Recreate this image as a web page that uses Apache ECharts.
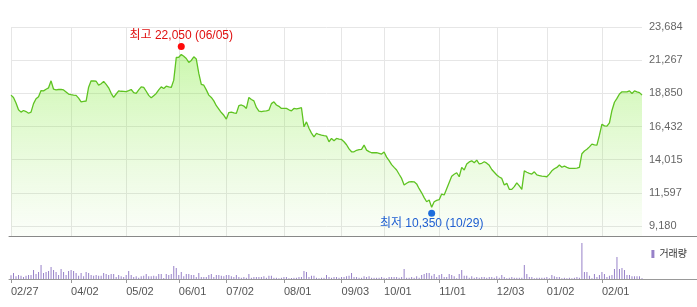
<!DOCTYPE html>
<html><head><meta charset="utf-8">
<script src="https://cdn.jsdelivr.net/npm/echarts@6/dist/echarts.min.js"></script>
<style>html,body{margin:0;padding:0;background:#fff}#c{width:697px;height:307px}</style>
</head><body><div id="c"></div>
<script>
const price = [
18718,18550,18150,17650,17480,17600,17520,17400,17480,18100,
18450,18600,19050,19030,19150,19250,19760,19150,19100,19130,
19140,19100,18950,18800,18750,18720,18700,18500,18230,18260,
18290,19300,19760,19750,19730,19450,19550,19720,19500,19250,
18850,18560,18800,19030,19000,18990,18980,19050,19130,18900,
18840,19100,19320,19280,19000,18700,18520,18680,18840,19100,
19320,19200,19370,19320,19280,19810,21460,21480,21680,21550,
21390,21100,21250,21510,21350,20300,19500,19440,19100,18720,
18550,18300,17950,17700,17450,17250,16970,17450,17480,17430,
17390,17950,18000,17920,17750,18550,18400,18300,17820,17550,
17520,17560,17575,17620,18100,18230,18000,17900,17750,17760,
17750,17650,17575,17750,17720,17760,17800,16410,16770,16300,
15950,15680,15930,15850,15800,15760,15730,15320,15560,15400,
15560,15520,15490,15320,15100,14800,14590,14590,14700,14740,
14770,15080,14710,14600,14520,14520,14520,14470,14420,14570,
14200,13950,13650,13450,13260,12950,12650,12170,12300,12400,
12410,12400,12250,11900,11600,11250,10950,11070,10540,10950,
11050,11100,11510,11440,11900,12350,12800,12950,13060,12770,
13450,13260,13700,13850,13930,13790,13985,13700,13750,13860,
13760,13600,13300,13100,12900,12750,12650,12170,12290,11860,
11850,12050,12330,12100,11850,13200,13100,13020,12970,13130,
12900,12860,12820,12800,12770,12960,13200,13350,13450,13620,
13460,13550,13450,13380,13380,13380,13400,13450,14450,14650,
14770,14950,15150,15100,15080,15800,16600,16480,16460,16700,
17600,18200,18480,18800,18960,18950,18960,19030,18840,19030,
18960,18900,18720
];
const volume = [
37,60,27,40,33,20,33,40,40,90,
50,70,140,60,70,80,120,90,70,40,
100,70,40,80,90,80,60,33,60,27,
70,60,40,33,40,33,33,60,50,40,
50,50,20,40,27,20,40,80,40,20,
27,13,27,33,50,27,27,33,27,50,
50,10,50,40,50,130,110,40,70,27,
50,50,40,40,20,60,20,20,20,40,
50,20,40,40,33,27,40,40,27,20,
40,20,13,20,13,50,13,20,20,20,
20,27,13,33,33,13,13,7,13,20,
20,7,10,13,13,20,20,80,70,20,
33,33,13,7,13,13,40,20,13,20,
20,13,20,20,27,33,60,20,20,13,
13,27,20,27,13,13,13,13,20,13,
7,20,20,20,20,13,20,100,13,13,
20,13,27,13,40,50,60,60,33,50,
20,40,50,20,20,50,40,27,7,50,
90,33,33,13,27,13,20,13,20,20,
13,20,20,13,27,13,40,20,7,13,
20,13,13,13,13,140,50,20,20,7,
13,13,13,13,20,7,40,27,20,20,
7,13,7,13,7,13,20,13,360,70,
70,33,7,50,20,40,70,50,20,33,
40,100,220,100,110,90,40,40,27,27,
27,27,7
];
const tickIndex = [0, 24, 46, 67, 86, 109, 132, 149, 171, 194, 214, 236];
const tickLabels = ['02/27','04/02','05/02','06/01','07/02','08/01','09/03','10/01','11/01','12/03','01/02','02/01'];
const yTicks = [9180, 11597, 14015, 16432, 18850, 21267, 23684];
const high = {label: '최고', value: 22050, date: '06/05'};
const low = {label: '최저', value: 10350, date: '10/29'};
const volumeName = '거래량';

const days = price.map((_, i) => i);
const isTick = (i) => tickIndex.indexOf(i) >= 0;
const fmt = (n) => n.toLocaleString('en-US');
const FONT = '"Liberation Sans", "Noto Sans CJK KR", sans-serif';

const chart = echarts.init(document.getElementById('c'), null, {renderer: 'canvas'});
chart.setOption({
  animation: false,
  textStyle: {fontFamily: FONT},
  legend: {
    data: [volumeName], right: 5, top: 244, icon: 'rect', itemWidth: 3, itemHeight: 8, itemGap: 3,
    textStyle: {fontSize: 10, color: '#333', fontFamily: FONT}, selectedMode: false
  },
  grid: [
    {left: 11, right: 55, top: 27, height: 209},
    {left: 11, right: 55, top: 243, height: 36},
    {left: 9, right: 0, top: 27, height: 209},
    {left: 9, right: 0, top: 243, height: 36}
  ],
  xAxis: [
    {gridIndex: 0, type: 'category', data: days, boundaryGap: false,
     axisLine: {show: false}, axisTick: {show: false}, axisLabel: {show: false},
     splitLine: {show: true, interval: (i) => isTick(i), lineStyle: {color: '#e6e6e6', width: 1}}},
    {gridIndex: 1, type: 'category', data: days, boundaryGap: false,
     axisLine: {show: false},
     axisTick: {show: true, interval: (i) => isTick(i), length: 4, lineStyle: {color: '#999'}},
     axisLabel: {interval: (i) => isTick(i), formatter: (v, i) => tickLabels[tickIndex.indexOf(Number(v))] || '',
       align: 'left', margin: 7, color: '#555', fontSize: 11, fontFamily: FONT},
     splitLine: {show: false}},
    {gridIndex: 2, type: 'value', min: 0, max: 1, axisLine: {show: true, onZero: false, lineStyle: {color: '#888'}},
     axisTick: {show: false}, axisLabel: {show: false}, splitLine: {show: false}},
    {gridIndex: 3, type: 'value', min: 0, max: 1, axisLine: {show: true, onZero: false, lineStyle: {color: '#999'}},
     axisTick: {show: false}, axisLabel: {show: false}, splitLine: {show: false}}
  ],
  yAxis: [
    {gridIndex: 0, type: 'value', position: 'right', min: 8452, max: yTicks[yTicks.length - 1],
     axisLine: {show: false}, axisTick: {show: false, customValues: yTicks},
     axisLabel: {customValues: yTicks, formatter: (v) => fmt(v), color: '#666', fontSize: 11, margin: 7, fontFamily: FONT},
     splitLine: {show: true, lineStyle: {color: '#e6e6e6', width: 1}}},
    {gridIndex: 1, type: 'value', min: 0, max: 'dataMax', show: false, splitLine: {show: false}},
    {gridIndex: 2, type: 'value', min: 0, max: 1, show: false},
    {gridIndex: 3, type: 'value', min: 0, max: 1, show: false}
  ],
  series: [
    {
      type: 'line', xAxisIndex: 0, yAxisIndex: 0, data: price, symbol: 'none',
      lineStyle: {color: '#5fc322', width: 1.3},
      areaStyle: {color: new echarts.graphic.LinearGradient(0, 0, 0, 1, [
        {offset: 0, color: 'rgba(115,235,35,0.52)'},
        {offset: 1, color: 'rgba(150,230,90,0.05)'}
      ])},
      markPoint: {
        symbol: 'circle', symbolSize: 7, silent: true,
        data: [
          {type: 'max', symbolOffset: [0, -8], itemStyle: {color: '#ff0a0a'},
           label: {show: true, position: 'top', distance: 1, color: '#e01010', fontSize: 12, fontFamily: FONT,
             formatter: () => `${high.label} ${fmt(high.value)} (${high.date})`}},
          {type: 'min', symbolOffset: [0, 6], itemStyle: {color: '#1d6ddc'},
           label: {show: true, position: 'bottom', distance: 1, color: '#1f5fd1', fontSize: 12, fontFamily: FONT,
             formatter: () => `${low.label} ${fmt(low.value)} (${low.date})`}}
        ]
      }
    },
    {
      name: volumeName, type: 'bar', xAxisIndex: 1, yAxisIndex: 1, data: volume, barWidth: 1,
      itemStyle: {color: '#9781c8'}
    }
  ]
});
</script></body></html>
